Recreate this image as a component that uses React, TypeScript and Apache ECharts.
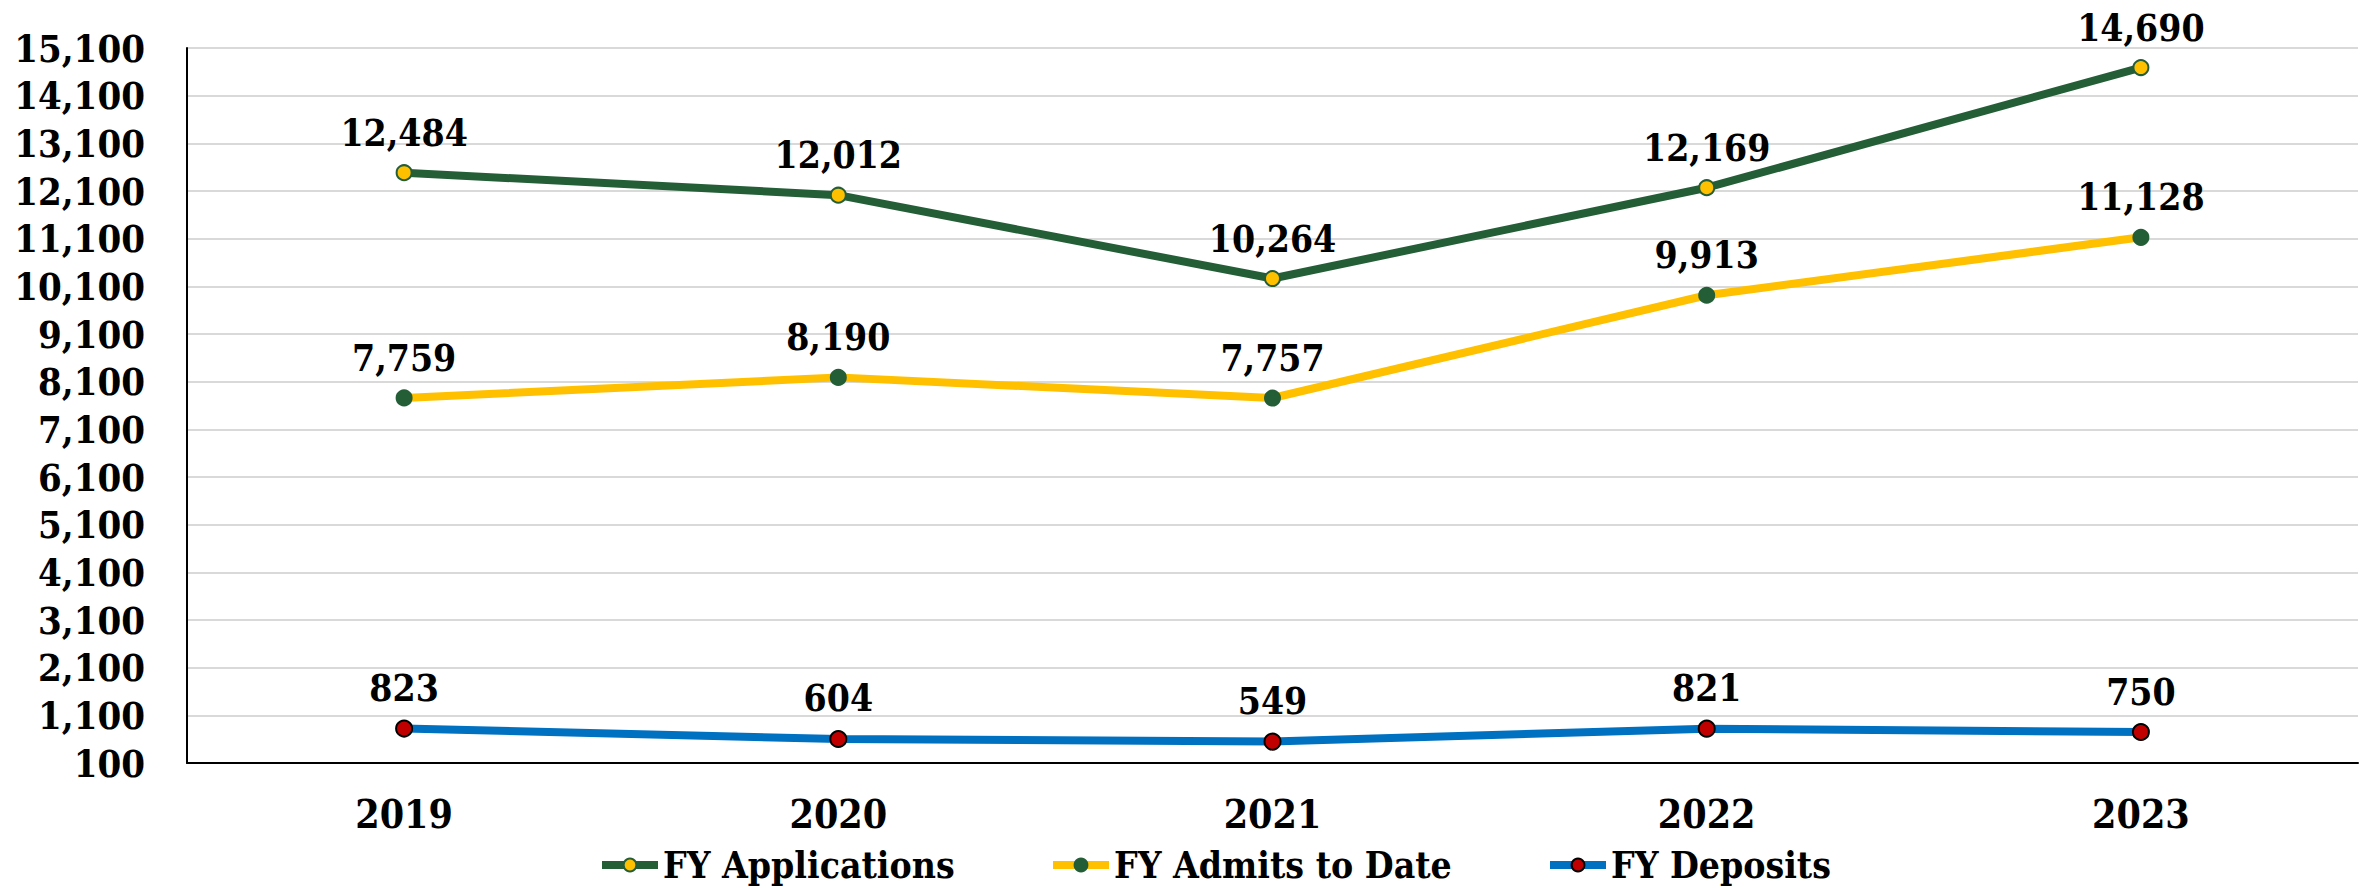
import React, { useEffect, useRef } from "react";
import * as echarts from "echarts";

const years = ["2019", "2020", "2021", "2022", "2023"];
const applications = [12484, 12012, 10264, 12169, 14690];
const admits = [7759, 8190, 7757, 9913, 11128];
const deposits = [823, 604, 549, 821, 750];
const seriesNames = ["FY Applications", "FY Admits to Date", "FY Deposits"];

const FONT = "'DejaVu Serif Condensed', 'Liberation Serif', serif";
const GREEN = "#245E37";
const GOLD = "#FFC000";
const BLUE = "#0070C0";
const RED = "#C00000";

const fmt = (v: number) => v.toLocaleString("en-US");

export default function App() {
  const ref = useRef<HTMLDivElement>(null);
  useEffect(() => {
    if (!ref.current) return;
    const chart = echarts.init(ref.current, null, { renderer: "svg" });
    const label = {
      show: true,
      position: "top" as const,
      distance: 13,
      fontFamily: FONT,
      fontWeight: "bold" as const,
      fontSize: 37,
      color: "#000",
      formatter: (p: any) => fmt(p.value),
    };
    const legendCommon = {
      top: 840,
      itemWidth: 56,
      itemHeight: 16,
      itemGap: 0,
      lineStyle: { width: 8 },
      textStyle: {
        fontFamily: FONT,
        fontWeight: "bold" as const,
        fontSize: 37,
        lineHeight: 40,
        color: "#000",
        padding: [0, 0, 0, 0],
      },
    };
    chart.setOption({
      animation: false,
      backgroundColor: "#fff",
      grid: { left: 187, right: 11, top: 48, bottom: 125 },
      legend: [
        { ...legendCommon, left: 593, data: [seriesNames[0]] },
        { ...legendCommon, left: 1044, data: [seriesNames[1]] },
        { ...legendCommon, left: 1541, data: [seriesNames[2]] },
      ],
      xAxis: {
        type: "category",
        data: years,
        boundaryGap: true,
        axisLine: { show: true, lineStyle: { color: "#000", width: 2 } },
        axisTick: { show: false },
        axisLabel: { fontFamily: FONT, fontWeight: "bold", fontSize: 39, color: "#000", margin: 31 },
      },
      yAxis: {
        type: "value",
        min: 100,
        max: 15100,
        interval: 1000,
        axisLine: { show: true, lineStyle: { color: "#000", width: 2 } },
        axisTick: { show: false },
        splitLine: { show: true, lineStyle: { color: "#D9D9D9", width: 2 } },
        axisLabel: {
          fontFamily: FONT,
          fontWeight: "bold",
          fontSize: 38,
          color: "#000",
          margin: 42,
          formatter: (v: number) => fmt(v),
        },
      },
      series: [
        {
          name: seriesNames[0],
          type: "line",
          data: applications,
          symbol: "circle",
          symbolSize: 15,
          lineStyle: { color: GREEN, width: 8 },
          itemStyle: { color: GOLD, borderColor: GREEN, borderWidth: 2 },
          label,
          z: 3,
        },
        {
          name: seriesNames[1],
          type: "line",
          data: admits,
          symbol: "circle",
          symbolSize: 15,
          lineStyle: { color: GOLD, width: 8 },
          itemStyle: { color: GREEN, borderColor: GREEN, borderWidth: 2 },
          label,
          z: 3,
        },
        {
          name: seriesNames[2],
          type: "line",
          data: deposits,
          symbol: "circle",
          symbolSize: 16,
          lineStyle: { color: BLUE, width: 8 },
          itemStyle: { color: RED, borderColor: "#000", borderWidth: 2 },
          label,
          z: 3,
        },
      ],
    });
    return () => chart.dispose();
  }, []);
  return (
    <div
      ref={ref}
      style={{ position: "absolute", left: 0, top: 0, width: 2369, height: 888 }}
    />
  );
}
